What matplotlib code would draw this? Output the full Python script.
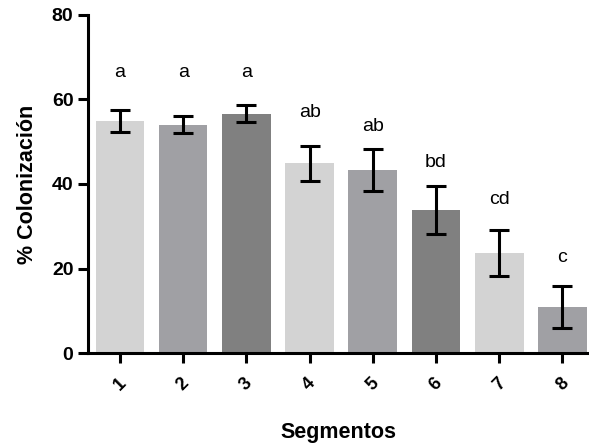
import matplotlib.pyplot as plt

plt.rcParams['font.family'] = ['Liberation Sans', 'DejaVu Sans']

# Data
segments = ['1', '2', '3', '4', '5', '6', '7', '8']
colonization = [54.9, 54.0, 56.6, 44.9, 43.3, 33.8, 23.7, 10.8]
errors = [2.6, 2.0, 2.0, 4.1, 4.9, 5.7, 5.5, 5.0]
letters = ['a', 'a', 'a', 'ab', 'ab', 'bd', 'cd', 'c']
letter_heights = [66.5, 66.5, 66.5, 57.0, 53.5, 45.0, 36.4, 22.7]
bar_colors = ['#d3d3d3', '#a0a0a4', '#808080', '#d3d3d3',
              '#a0a0a4', '#808080', '#d3d3d3', '#a0a0a4']

fig = plt.figure(figsize=(5.89, 4.46), dpi=100)
ax = fig.add_axes([88 / 589, 1 - 353 / 446, 1 - 88 / 589, (353 - 15) / 446])

x = list(range(1, len(segments) + 1))
ax.bar(x, colonization, width=0.77, color=bar_colors, zorder=1)
ax.errorbar(x, colonization, yerr=errors, fmt='none', ecolor='black',
            elinewidth=2.2, capsize=7.5, capthick=2.2, zorder=2)

for xi, lab, h in zip(x, letters, letter_heights):
    ax.text(xi, h, lab, ha='center', va='center', fontsize=14)

ax.set_xlim(0.495, 8.42)
ax.set_ylim(0, 80)
ax.set_yticks([0, 20, 40, 60, 80])
ax.set_xticks(x)
ax.set_xticklabels(segments, rotation=45, fontsize=13, fontweight='bold')
ax.tick_params(axis='y', labelsize=14, width=2.2, length=7)
ax.tick_params(axis='x', width=2.2, length=7, pad=9)
for lbl in ax.get_yticklabels():
    lbl.set_fontweight('bold')

for side in ['top', 'right']:
    ax.spines[side].set_visible(False)
for side in ['left', 'bottom']:
    ax.spines[side].set_linewidth(2.2)

ax.set_ylabel('% Colonización', fontsize=15.5, fontweight='bold', labelpad=10)
ax.set_xlabel('Segmentos', fontsize=15.5, fontweight='bold', labelpad=20)

fig.savefig('out.png', dpi=100)
